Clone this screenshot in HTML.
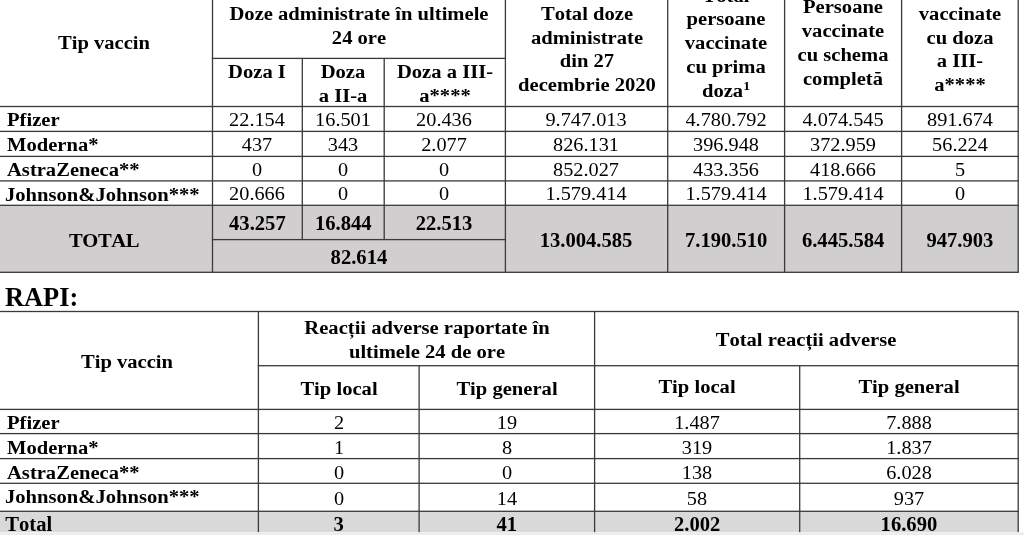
<!DOCTYPE html>
<html><head><meta charset="utf-8"><title>Vaccin</title>
<style>
html,body{margin:0;padding:0;background:#fff;}
body{width:1024px;height:535px;position:relative;overflow:hidden;font-family:"Liberation Serif",serif;font-size:19.7px;line-height:24.0px;color:#000;font-kerning:none;}
#tx{position:absolute;left:0;top:0;width:1024px;height:535px;will-change:transform;filter:blur(0.3px);}
.t{position:absolute;}
.t{white-space:nowrap;height:24.0px;}
.t{transform:scaleX(1.0305);transform-origin:0 0;}
.c{width:500px;text-align:center;transform-origin:50% 0;}
.b{font-weight:bold;font-size:19.7px;transform:scaleX(1.0457);}
.n{transform:none;}
sup{font-size:0.67em;vertical-align:baseline;position:relative;top:-0.55em;line-height:0;}
</style></head><body>
<svg width="1024" height="535" viewBox="0 0 1024 535" style="position:absolute;left:0;top:0">
<rect x="-2.00" y="205.30" width="1020.20" height="67.00" fill="#d0cece"/>
<rect x="211.85" y="-5.00" width="1.3" height="277.30" fill="#3a3a3a"/>
<rect x="301.65" y="58.40" width="1.3" height="181.20" fill="#3a3a3a"/>
<rect x="383.55" y="58.40" width="1.3" height="181.20" fill="#3a3a3a"/>
<rect x="504.75" y="-5.00" width="1.3" height="277.30" fill="#3a3a3a"/>
<rect x="667.05" y="-5.00" width="1.3" height="277.30" fill="#3a3a3a"/>
<rect x="783.95" y="-5.00" width="1.3" height="277.30" fill="#3a3a3a"/>
<rect x="900.95" y="-5.00" width="1.3" height="277.30" fill="#3a3a3a"/>
<rect x="1017.55" y="-5.00" width="1.3" height="277.30" fill="#3a3a3a"/>
<rect x="211.85" y="57.75" width="294.20" height="1.3" fill="#3a3a3a"/>
<rect x="-2.65" y="105.85" width="1021.50" height="1.3" fill="#3a3a3a"/>
<rect x="-2.65" y="130.75" width="1021.50" height="1.3" fill="#3a3a3a"/>
<rect x="-2.65" y="155.75" width="1021.50" height="1.3" fill="#3a3a3a"/>
<rect x="-2.65" y="180.25" width="1021.50" height="1.3" fill="#3a3a3a"/>
<rect x="-2.65" y="204.65" width="1021.50" height="1.3" fill="#3a3a3a"/>
<rect x="211.85" y="238.95" width="294.20" height="1.3" fill="#3a3a3a"/>
<rect x="-2.65" y="271.65" width="1021.50" height="1.3" fill="#3a3a3a"/>
<rect x="-2.00" y="511.30" width="1020.20" height="21.00" fill="#d9d9d9"/>
<rect x="257.75" y="311.50" width="1.3" height="220.80" fill="#3a3a3a"/>
<rect x="593.95" y="311.50" width="1.3" height="220.80" fill="#3a3a3a"/>
<rect x="1017.55" y="311.50" width="1.3" height="220.80" fill="#3a3a3a"/>
<rect x="418.45" y="365.70" width="1.3" height="166.60" fill="#3a3a3a"/>
<rect x="799.05" y="365.70" width="1.3" height="166.60" fill="#3a3a3a"/>
<rect x="-2.65" y="310.85" width="1021.50" height="1.3" fill="#3a3a3a"/>
<rect x="257.75" y="365.05" width="761.10" height="1.3" fill="#3a3a3a"/>
<rect x="-2.65" y="408.75" width="1021.50" height="1.3" fill="#3a3a3a"/>
<rect x="-2.65" y="432.95" width="1021.50" height="1.3" fill="#3a3a3a"/>
<rect x="-2.65" y="457.95" width="1021.50" height="1.3" fill="#3a3a3a"/>
<rect x="-2.65" y="482.65" width="1021.50" height="1.3" fill="#3a3a3a"/>
<rect x="-2.65" y="510.65" width="1021.50" height="1.3" fill="#3a3a3a"/>
<rect x="0.00" y="532.50" width="1024.00" height="3.50" fill="#ececec"/>
</svg>
<div id="tx">
<div class="t c b" style="left:-146.00px;top:29.75px;">Tip vaccin</div>
<div class="t c b" style="left:108.95px;top:0.85px;">Doze administrate în ultimele</div>
<div class="t c b" style="left:108.95px;top:25.25px;">24 ore</div>
<div class="t c b" style="left:7.40px;top:58.55px;">Doza I</div>
<div class="t c b" style="left:93.25px;top:58.55px;">Doza</div>
<div class="t c b" style="left:93.25px;top:82.85px;">a II-a</div>
<div class="t c b" style="left:194.80px;top:58.55px;">Doza a III-</div>
<div class="t c b" style="left:194.80px;top:82.85px;">a****</div>
<div class="t c b" style="left:336.55px;top:0.85px;">Total doze</div>
<div class="t c b" style="left:336.55px;top:24.60px;">administrate</div>
<div class="t c b" style="left:336.55px;top:48.35px;">din 27</div>
<div class="t c b" style="left:336.55px;top:72.10px;">decembrie 2020</div>
<div class="t c b" style="left:476.15px;top:-17.45px;">Total</div>
<div class="t c b" style="left:476.15px;top:6.35px;">persoane</div>
<div class="t c b" style="left:476.15px;top:30.15px;">vaccinate</div>
<div class="t c b" style="left:476.15px;top:53.95px;">cu prima</div>
<div class="t c b" style="left:476.15px;top:77.75px;">doza<sup>1</sup></div>
<div class="t c b" style="left:593.10px;top:-5.75px;">Persoane</div>
<div class="t c b" style="left:593.10px;top:18.08px;">vaccinate</div>
<div class="t c b" style="left:593.10px;top:41.91px;">cu schema</div>
<div class="t c b" style="left:593.10px;top:65.74px;">completă</div>
<div class="t c b" style="left:709.90px;top:-22.95px;">Persoane</div>
<div class="t c b" style="left:709.90px;top:0.80px;">vaccinate</div>
<div class="t c b" style="left:709.90px;top:24.55px;">cu doza</div>
<div class="t c b" style="left:709.90px;top:48.30px;">a III-</div>
<div class="t c b" style="left:709.90px;top:72.05px;">a****</div>
<div class="t b" style="left:6.80px;top:107.15px;">Pfizer</div>
<div class="t c" style="left:7.40px;top:106.95px;">22.154</div>
<div class="t c" style="left:93.25px;top:106.95px;">16.501</div>
<div class="t c" style="left:194.05px;top:106.95px;">20.436</div>
<div class="t c" style="left:336.05px;top:106.95px;">9.747.013</div>
<div class="t c" style="left:476.15px;top:106.95px;">4.780.792</div>
<div class="t c" style="left:593.10px;top:106.95px;">4.074.545</div>
<div class="t c" style="left:709.90px;top:106.95px;">891.674</div>
<div class="t b" style="left:6.80px;top:132.15px;">Moderna*</div>
<div class="t c" style="left:7.40px;top:131.75px;">437</div>
<div class="t c" style="left:93.25px;top:131.75px;">343</div>
<div class="t c" style="left:194.05px;top:131.75px;">2.077</div>
<div class="t c" style="left:336.05px;top:131.75px;">826.131</div>
<div class="t c" style="left:476.15px;top:131.75px;">396.948</div>
<div class="t c" style="left:593.10px;top:131.75px;">372.959</div>
<div class="t c" style="left:709.90px;top:131.75px;">56.224</div>
<div class="t b" style="left:6.50px;top:157.35px;">AstraZeneca**</div>
<div class="t c" style="left:7.40px;top:156.50px;">0</div>
<div class="t c" style="left:93.25px;top:156.50px;">0</div>
<div class="t c" style="left:194.05px;top:156.50px;">0</div>
<div class="t c" style="left:336.05px;top:156.50px;">852.027</div>
<div class="t c" style="left:476.15px;top:156.50px;">433.356</div>
<div class="t c" style="left:593.10px;top:156.50px;">418.666</div>
<div class="t c" style="left:709.90px;top:156.50px;">5</div>
<div class="t b" style="left:5.30px;top:181.95px;">Johnson&amp;Johnson***</div>
<div class="t c" style="left:7.40px;top:181.40px;">20.666</div>
<div class="t c" style="left:93.25px;top:181.40px;">0</div>
<div class="t c" style="left:194.05px;top:181.40px;">0</div>
<div class="t c" style="left:336.05px;top:181.40px;">1.579.414</div>
<div class="t c" style="left:476.15px;top:181.40px;">1.579.414</div>
<div class="t c" style="left:593.10px;top:181.40px;">1.579.414</div>
<div class="t c" style="left:709.90px;top:181.40px;">0</div>
<div class="t c b" style="left:-145.80px;top:228.35px;"><span style="letter-spacing:-0.4px">TOTAL</span></div>
<div class="t c b n" style="left:7.40px;top:210.55px;font-size:20.6px;">43.257</div>
<div class="t c b n" style="left:93.25px;top:210.55px;font-size:20.6px;">16.844</div>
<div class="t c b n" style="left:194.05px;top:210.55px;font-size:20.6px;">22.513</div>
<div class="t c b n" style="left:108.95px;top:244.75px;font-size:20.6px;">82.614</div>
<div class="t c b n" style="left:336.05px;top:227.85px;font-size:20.6px;">13.004.585</div>
<div class="t c b n" style="left:476.15px;top:227.85px;font-size:20.6px;">7.190.510</div>
<div class="t c b n" style="left:593.10px;top:227.85px;font-size:20.6px;">6.445.584</div>
<div class="t c b n" style="left:709.90px;top:227.85px;font-size:20.6px;">947.903</div>
<div class="t b n" style="left:5.00px;top:285.19px;font-size:26.4px;">RAPI:</div>
<div class="t c b" style="left:-123.10px;top:349.05px;">Tip vaccin</div>
<div class="t c b" style="left:176.50px;top:314.65px;">Reacții adverse raportate în</div>
<div class="t c b" style="left:176.50px;top:338.95px;">ultimele 24 de ore</div>
<div class="t c b" style="left:556.40px;top:327.25px;">Total reacții adverse</div>
<div class="t c b" style="left:88.75px;top:376.05px;">Tip local</div>
<div class="t c b" style="left:256.85px;top:376.05px;">Tip general</div>
<div class="t c b" style="left:447.15px;top:374.05px;">Tip local</div>
<div class="t c b" style="left:658.95px;top:374.05px;">Tip general</div>
<div class="t b" style="left:6.80px;top:409.65px;">Pfizer</div>
<div class="t c" style="left:88.75px;top:409.85px;">2</div>
<div class="t c" style="left:256.85px;top:409.85px;">19</div>
<div class="t c" style="left:447.15px;top:409.85px;">1.487</div>
<div class="t c" style="left:658.95px;top:409.85px;">7.888</div>
<div class="t b" style="left:6.80px;top:434.65px;">Moderna*</div>
<div class="t c" style="left:88.75px;top:434.85px;">1</div>
<div class="t c" style="left:256.85px;top:434.85px;">8</div>
<div class="t c" style="left:447.15px;top:434.85px;">319</div>
<div class="t c" style="left:658.95px;top:434.85px;">1.837</div>
<div class="t b" style="left:6.50px;top:459.75px;">AstraZeneca**</div>
<div class="t c" style="left:88.75px;top:459.65px;">0</div>
<div class="t c" style="left:256.85px;top:459.65px;">0</div>
<div class="t c" style="left:447.15px;top:459.65px;">138</div>
<div class="t c" style="left:658.95px;top:459.65px;">6.028</div>
<div class="t b" style="left:5.30px;top:484.05px;">Johnson&amp;Johnson***</div>
<div class="t c" style="left:88.75px;top:485.65px;">0</div>
<div class="t c" style="left:256.85px;top:485.65px;">14</div>
<div class="t c" style="left:447.15px;top:485.65px;">58</div>
<div class="t c" style="left:658.95px;top:485.65px;">937</div>
<div class="t b n" style="left:5.30px;top:512.15px;font-size:20.6px;">Total</div>
<div class="t c b n" style="left:88.75px;top:512.15px;font-size:20.6px;">3</div>
<div class="t c b n" style="left:256.85px;top:512.15px;font-size:20.6px;">41</div>
<div class="t c b n" style="left:447.15px;top:512.15px;font-size:20.6px;">2.002</div>
<div class="t c b n" style="left:658.95px;top:512.15px;font-size:20.6px;">16.690</div>
</div>
</body></html>
